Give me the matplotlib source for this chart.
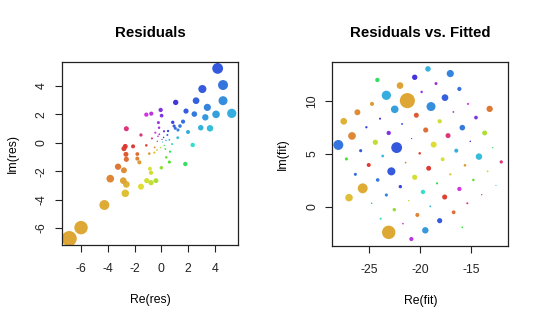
import numpy as np
import matplotlib
matplotlib.use("Agg")
import matplotlib.pyplot as plt
from matplotlib.colors import hsv_to_rgb

plt.rcParams['font.family'] = ['Liberation Sans', 'DejaVu Sans']
plt.rcParams['axes.unicode_minus'] = False

# residuals (complex): real / imaginary parts
res_re = [4.20, 4.60, 3.06, 4.60, 5.25, 4.08, 3.43, 2.59, 1.84, 2.46,
          3.28, 3.63, 2.94, 1.99, 2.34, 1.79, 1.07, 1.62, -0.05, 0.02,
          -0.75, -1.12, -2.61, -1.52, -2.11, -2.69, -2.79, -2.64, -2.61, -1.79,
          -1.79, -1.64, -3.81, -3.23, -2.79, -2.84, -2.61, -2.69, -4.25, -5.99,
          -6.87, -1.52, -1.09, -0.40, -0.77, -0.85, -0.77, 0.00, 0.60,
          1.39, 0.85, 1.24, 0.95, 1.04,
          -0.22, -0.17, -0.45, -0.15, 0.20, 0.50, 0.45, 0.05, 0.17, 1.22,
          -1.12, 0.22, -0.50, -0.90, -0.52, -0.32, 0.65, 0.37, 0.10, -0.30,
          0.35, -0.05, 0.60, -0.70, 0.80, -0.25, 0.30]
res_im = [5.22, 4.05, 3.77, 2.95, 2.06, 1.99, 2.48, 2.95, 2.22, 2.01,
          1.78, 1.01, 1.05, 0.75, -0.16, -1.50, 2.83, 1.48, 2.30, 1.90,
          2.04, 1.97, 0.98, 0.54, -0.26, -0.26, -0.42, -0.82, -1.17, -0.80,
          -1.12, -1.38, -2.53, -1.69, -1.94, -2.67, -2.93, -3.56, -4.38, -5.97,
          -6.74, -3.09, -2.67, -2.67, -2.81, -1.83, -2.11, -1.76, -1.36,
          1.17, 1.43, 0.89, 1.17, 1.01,
          1.41, 1.05, 0.70, 0.59, 0.80, 0.82, 0.54, 0.23, 0.37, 0.35,
          -0.19, -0.19, -0.33, -0.77, -0.70, -0.52, -0.63, -1.03, 0.05, 0.10,
          0.15, -0.35, 0.20, 0.30, -0.10, 0.45, -0.45]

# fitted values (complex): real / imaginary parts, same order as residuals
fit_re = [-22.29, -28.01, -22.81, -18.92, -23.30, -22.48, -17.03, -17.55, -18.07, -15.85,
          -19.48, -14.22, -19.22, -16.44, -19.71, -24.18, -20.52, -16.14, -23.07, -14.51,
          -20.85, -16.14, -17.25, -12.03, -25.03, -19.15, -17.58, -20.36, -19.44, -16.70,
          -20.26, -24.71, -26.67, -13.17, -26.14, -21.96, -27.48, -26.96, -25.62, -23.07,
          -21.24, -18.66, -20.52, -13.66, -24.38, -17.78, -18.07, -22.52, -27.22,
          -24.15, -21.93, -23.30, -25.82, -26.34,
          -18.43, -19.84, -15.29, -16.73, -23.92, -25.26, -21.76, -20.82, -15.07, -23.66,
          -20.03, -12.88, -21.41, -15.59, -17.03, -13.37, -18.33, -14.77, -12.55, -13.95,
          -24.74, -21.11, -18.99, -15.36, -23.86, -21.67, -15.85]
fit_im = [5.60, 5.85, 3.36, 9.47, 10.53, 9.21, 12.58, 10.31, -1.29, 7.48,
          -2.20, 4.75, 13.02, 5.31, 1.42, 11.98, 12.23, 11.13, 6.98, 8.43,
          -3.02, 1.70, 6.73, 4.25, 3.96, 3.65, 0.94, 8.65, 7.26, -0.50,
          -0.75, 9.72, 6.70, 9.25, 8.93, 11.45, 8.08, 0.88, 1.76, -2.39,
          10.03, 5.88, 2.80, 6.98, 6.10, 4.50, 8.08, -0.25, 4.53,
          2.55, 1.92, 1.13, 5.31, 3.08,
          11.64, 10.85, 9.72, 8.96, 8.33, 7.52, 7.83, 6.45, 6.19, 4.81,
          5.06, 5.60, 4.18, 3.93, 3.08, 3.36, 2.23, 2.55, 2.04, 1.16,
          0.35, 0.60, 0.06, 0.35, -1.10, -1.57, -1.92]

res = np.array(res_re) + 1j * np.array(res_im)
fit = np.array(fit_re) + 1j * np.array(fit_im)

# colour by argument (hue wheel), size by modulus
hue = ((np.angle(res, deg=True) + 176.0) % 360.0) / 360.0
hsv = np.column_stack([hue, np.full(hue.shape, 0.76), np.full(hue.shape, 0.87)])
colors = hsv_to_rgb(hsv)
r_px = 0.45 + 0.74 * np.abs(res)
sizes = (2 * r_px * 72.0 / 100.0) ** 2

fig = plt.figure(figsize=(5.40, 3.23), dpi=100)
ax1 = fig.add_axes([0.1143, 0.2415, 0.3265, 0.5675])
ax2 = fig.add_axes([0.6154, 0.2393, 0.3259, 0.5697])

order = np.argsort(-np.abs(res))
ax1.scatter(res.real[order], res.imag[order], s=sizes[order], c=colors[order], linewidths=0)
ax2.scatter(fit.real[order], fit.imag[order], s=sizes[order], c=colors[order], linewidths=0)

ax1.set_xlim(-7.43, 5.72)
ax1.set_ylim(-7.19, 5.69)
ax1.set_xticks([-6, -4, -2, 0, 2, 4])
ax1.set_yticks([-6, -4, -2, 0, 2, 4])
ax2.set_xlim(-28.6, -11.34)
ax2.set_ylim(-3.65, 13.7)
ax2.set_xticks([-25, -20, -15])
ax2.set_yticks([0, 5, 10])

for ax, title, xl, yl in [(ax1, "Residuals", "Re(res)", "Im(res)"),
                          (ax2, "Residuals vs. Fitted", "Re(fit)", "Im(fit)")]:
    for sp in ax.spines.values():
        sp.set_linewidth(0.9)
        sp.set_color('#222222')
    ax.tick_params(axis='both', direction='out', length=5.2, width=0.8,
                   labelsize=8.8, colors='#222222')
    ax.tick_params(axis='x', pad=8.0)
    ax.tick_params(axis='y', pad=4.8)
    for lab in ax.get_yticklabels():
        lab.set_rotation(90)
        lab.set_va('center')
    ax.set_title(title, fontsize=10.8, fontweight='bold', pad=17.5)
    ax.set_xlabel(xl, fontsize=8.8)
    ax.set_ylabel(yl, fontsize=8.8)
    ax.xaxis.set_label_coords(0.5, -55.0 / 183.5)
    ax.xaxis.label.set_va('center')
    ax.yaxis.set_label_coords(-49.0 / 176.0, 0.5)
    ax.yaxis.label.set_va('center')

fig.savefig("out.png", dpi=100)
